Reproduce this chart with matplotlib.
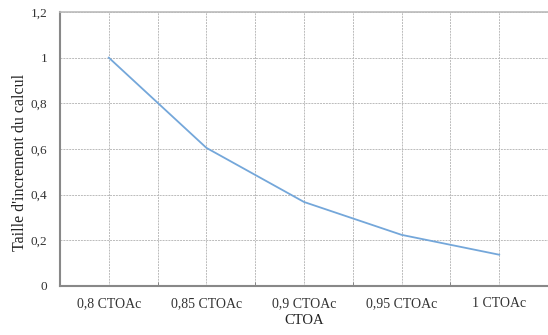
import matplotlib
matplotlib.use("Agg")
import matplotlib.pyplot as plt
from matplotlib.ticker import FixedLocator

categories = ["0,8 CTOAc", "0,85 CTOAc", "0,9 CTOAc", "0,95 CTOAc", "1 CTOAc"]
values = [1.0, 0.605, 0.368, 0.224, 0.137]
y_ticks = [0, 0.2, 0.4, 0.6, 0.8, 1.0, 1.2]
y_labels = ["0", "0,2", "0,4", "0,6", "0,8", "1", "1,2"]

plt.rcParams['font.family'] = ['Liberation Serif', 'DejaVu Serif']

fig = plt.figure(figsize=(5.48, 3.35), dpi=100)
ax = fig.add_axes([60/548, (335-286)/335, 488/548, (286-12)/335])

x = list(range(len(categories)))
ax.plot(x, values, color="#74a7da", lw=1.3, zorder=3)

ax.set_xlim(-0.5, len(categories) - 0.5)
ax.set_ylim(0, 1.2)
ax.set_xticks(x)
ax.set_xticklabels(categories, fontsize=10)
ax.set_yticks(y_ticks)
ax.set_yticklabels(y_labels, fontsize=9.5)
ax.xaxis.set_minor_locator(FixedLocator([i + 0.5 for i in range(len(categories) - 1)]))

ax.grid(True, which="both", axis="x", color="#bbbbbb", ls=(0, (2, 1)), lw=0.7)
ax.grid(True, which="major", axis="y", color="#bbbbbb", ls=(0, (2, 1)), lw=0.7)
ax.set_axisbelow(True)

ax.tick_params(axis="x", which="major", length=0, pad=8, colors="#333333")
ax.tick_params(axis="x", which="minor", length=3, direction="in", color="#777777")
ax.tick_params(axis="y", length=0, pad=9, colors="#333333")

for s in ["left", "bottom"]:
    ax.spines[s].set_color("#888888")
    ax.spines[s].set_linewidth(1.5)
ax.spines["top"].set_color("#bbbbbb")
ax.spines["top"].set_linewidth(1.2)
ax.spines["right"].set_visible(False)

ax.set_xlabel("CTOA", fontsize=10.5, color="#222222", labelpad=3)
ax.set_ylabel("Taille d'increment du calcul", fontsize=11.5, color="#222222")
ax.yaxis.set_label_coords(-0.066, 0.45)

fig.savefig("out.png", dpi=100)
